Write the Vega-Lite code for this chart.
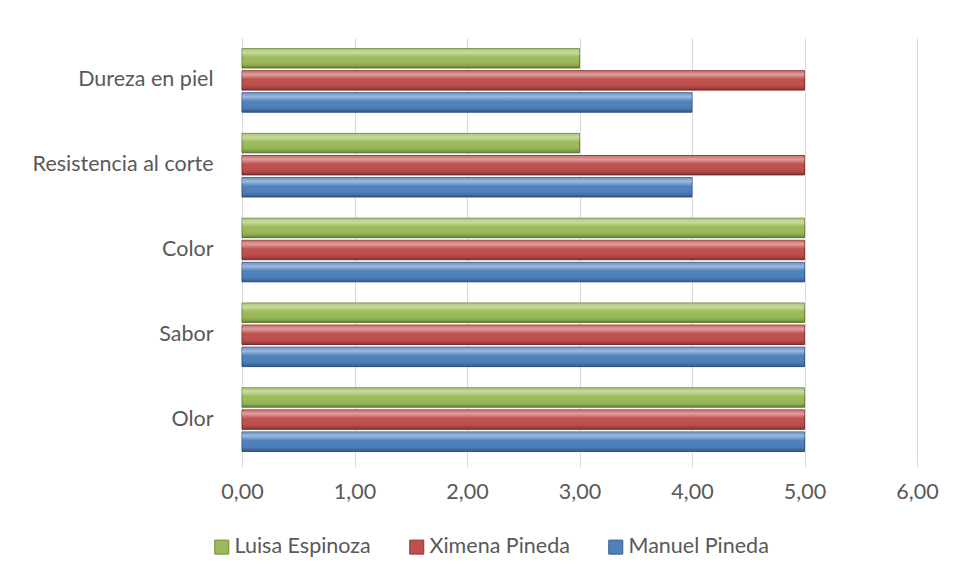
{
  "$schema": "https://vega.github.io/schema/vega-lite/v6.json",
  "width": 675,
  "height": 424,
  "autosize": "none",
  "padding": {"left": 242, "top": 38, "right": 41, "bottom": 114},
  "background": "white",
  "config": {
    "font": "Lato",
    "view": {"stroke": null},
    "axis": {"labelFont": "Lato", "labelColor": "#595959", "labelFontSize": 21.5}
  },
  "data": {
    "values": [
      {"criterio": "Dureza en piel", "persona": "Luisa Espinoza", "valor": 3},
      {"criterio": "Dureza en piel", "persona": "Ximena Pineda", "valor": 5},
      {"criterio": "Dureza en piel", "persona": "Manuel Pineda", "valor": 4},
      {"criterio": "Resistencia al corte", "persona": "Luisa Espinoza", "valor": 3},
      {"criterio": "Resistencia al corte", "persona": "Ximena Pineda", "valor": 5},
      {"criterio": "Resistencia al corte", "persona": "Manuel Pineda", "valor": 4},
      {"criterio": "Color", "persona": "Luisa Espinoza", "valor": 5},
      {"criterio": "Color", "persona": "Ximena Pineda", "valor": 5},
      {"criterio": "Color", "persona": "Manuel Pineda", "valor": 5},
      {"criterio": "Sabor", "persona": "Luisa Espinoza", "valor": 5},
      {"criterio": "Sabor", "persona": "Ximena Pineda", "valor": 5},
      {"criterio": "Sabor", "persona": "Manuel Pineda", "valor": 5},
      {"criterio": "Olor", "persona": "Luisa Espinoza", "valor": 5},
      {"criterio": "Olor", "persona": "Ximena Pineda", "valor": 5},
      {"criterio": "Olor", "persona": "Manuel Pineda", "valor": 5}
    ]
  },
  "encoding": {
    "y": {
      "field": "criterio", "type": "nominal",
      "sort": ["Dureza en piel", "Resistencia al corte", "Color", "Sabor", "Olor"],
      "scale": {"paddingInner": 0.25, "paddingOuter": 0.125},
      "axis": {"title": null, "ticks": false, "domain": true, "domainColor": "#d9d9d9", "labelPadding": 29, "labelLimit": 400}
    },
    "yOffset": {
      "field": "persona", "type": "nominal",
      "sort": ["Luisa Espinoza", "Ximena Pineda", "Manuel Pineda"],
      "scale": {"paddingInner": 0.12}
    },
    "x": {
      "field": "valor", "type": "quantitative",
      "scale": {"domain": [0, 6]},
      "axis": {
        "title": null, "values": [0, 1, 2, 3, 4, 5, 6],
        "labelExpr": "replace(format(datum.value, '.2f'), '.', ',')",
        "labelOverlap": false, "labelFlush": false,
        "grid": true, "gridColor": "#d9d9d9", "domain": false,
        "ticks": true, "tickColor": "#d9d9d9", "tickSize": 5, "labelPadding": 14
      }
    }
  },
  "layer": [
    {
      "mark": {"type": "bar", "strokeWidth": 1},
      "encoding": {
        "color": {
          "field": "persona", "type": "nominal",
          "sort": ["Luisa Espinoza", "Ximena Pineda", "Manuel Pineda"],
          "scale": {"domain": ["Luisa Espinoza", "Ximena Pineda", "Manuel Pineda"], "range": ["#9bbb59", "#c0504d", "#4f81bd"]},
          "legend": {
            "title": null, "orient": "none", "direction": "horizontal",
            "legendX": -31, "legendY": 498,
            "symbolType": "square", "symbolSize": 196, "symbolStrokeWidth": 1,
            "symbolStrokeColor": "#555555",
            "labelFontSize": 21.5, "labelFont": "Lato", "labelColor": "#595959",
            "columnPadding": 35, "labelOffset": 2
          }
        },
        "stroke": {
          "field": "persona", "type": "nominal",
          "scale": {"domain": ["Luisa Espinoza", "Ximena Pineda", "Manuel Pineda"], "range": ["#6f8a3a", "#8c3331", "#345d8f"]},
          "legend": null
        }
      }
    },
    {
      "mark": {
        "type": "bar",
        "color": {
          "gradient": "linear", "x1": 0, "y1": 0, "x2": 0, "y2": 1,
          "stops": [
            {"offset": 0, "color": "rgba(255,255,255,0.15)"},
            {"offset": 0.2, "color": "rgba(255,255,255,0.45)"},
            {"offset": 0.45, "color": "rgba(255,255,255,0.0)"},
            {"offset": 0.8, "color": "rgba(0,0,0,0.05)"},
            {"offset": 1, "color": "rgba(0,0,0,0.3)"}
          ]
        }
      },
      "encoding": {
        "detail": {"field": "persona", "type": "nominal"}
      }
    }
  ]
}
